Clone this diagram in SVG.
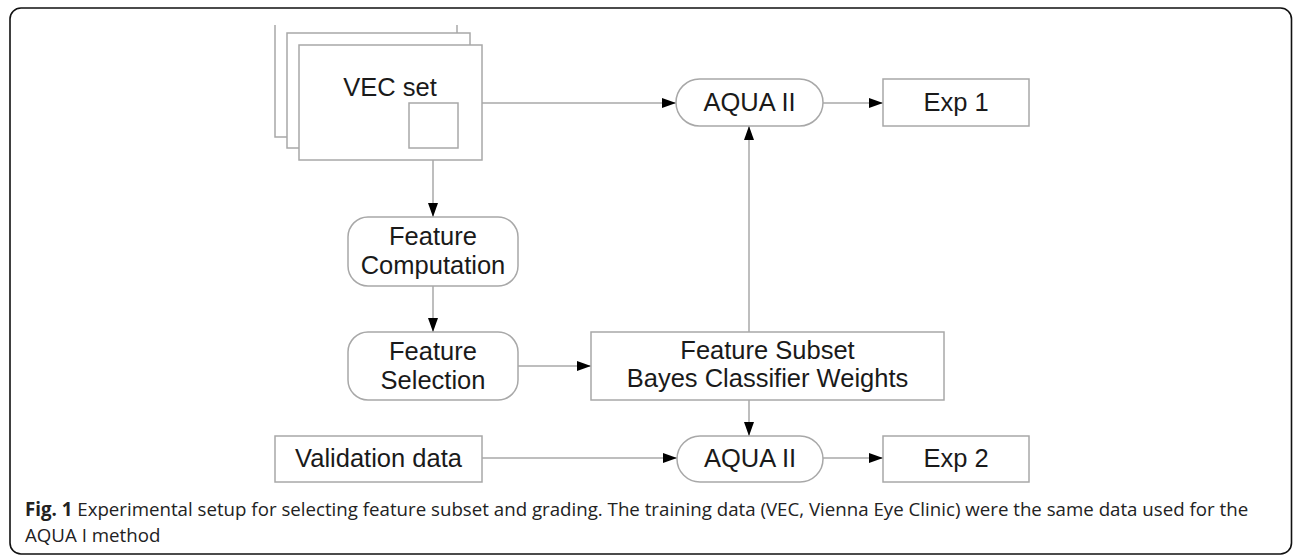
<svg xmlns="http://www.w3.org/2000/svg" width="1293" height="555" viewBox="0 0 1293 555">
<style>
.box{fill:#fff;stroke:#a8a8a8;stroke-width:1.5}
.ln{fill:none;stroke:#a8a8a8;stroke-width:1.5}
.t{font-family:"Liberation Sans",Arial,sans-serif;font-size:25.5px;fill:#1a1a1a;text-anchor:middle}
.cap{font-family:"Open Sans","Noto Sans",sans-serif;font-size:18.7px;fill:#222}
</style>
<defs>
<marker id="ah" markerUnits="userSpaceOnUse" markerWidth="15" markerHeight="11" refX="14" refY="5.5" orient="auto">
<path d="M0,0.5 L14,5.5 L0,10.5 Z" fill="#000"/>
</marker>
</defs>
<rect x="10" y="8" width="1281.5" height="546" rx="11" fill="#fff" stroke="#111" stroke-width="1.6"/>

<g id="connectors">
<line class="ln" x1="482" y1="103" x2="676" y2="103" marker-end="url(#ah)"/>
<line class="ln" x1="823" y1="103" x2="883" y2="103" marker-end="url(#ah)"/>
<line class="ln" x1="433" y1="148" x2="433" y2="217" marker-end="url(#ah)"/>
<line class="ln" x1="433" y1="286" x2="433" y2="332" marker-end="url(#ah)"/>
<line class="ln" x1="518" y1="366" x2="591" y2="366" marker-end="url(#ah)"/>
<line class="ln" x1="749" y1="332" x2="749" y2="126" marker-end="url(#ah)"/>
<line class="ln" x1="749" y1="400" x2="749" y2="436" marker-end="url(#ah)"/>
<line class="ln" x1="482" y1="458" x2="677" y2="458" marker-end="url(#ah)"/>
<line class="ln" x1="823" y1="458" x2="883" y2="458" marker-end="url(#ah)"/>
</g>

<g id="vec-set">
<path class="ln" d="M275,25 V137 H287"/>
<path class="ln" d="M457,25 V33"/>
<rect class="box" x="287" y="33" width="183" height="115"/>
<rect class="box" x="299" y="45" width="183" height="115"/>
<rect class="box" x="409" y="103" width="49" height="45"/>
<text class="t" x="390" y="96">VEC set</text>
</g>

<g id="aqua-top">
<rect class="box" x="676" y="79" width="147" height="47" rx="23.5"/>
<text class="t" x="749.5" y="111">AQUA II</text>
</g>

<g id="exp1">
<rect class="box" x="883" y="79" width="146" height="47"/>
<text class="t" x="956" y="111">Exp 1</text>
</g>

<g id="feature-computation">
<rect class="box" x="348" y="217" width="170" height="69" rx="20"/>
<text class="t" x="433" y="245">Feature</text>
<text class="t" x="433" y="274">Computation</text>
</g>

<g id="feature-selection">
<rect class="box" x="348" y="332" width="170" height="68" rx="20"/>
<text class="t" x="433" y="360">Feature</text>
<text class="t" x="433" y="389">Selection</text>
</g>

<g id="feature-subset">
<rect class="box" x="591" y="332" width="353" height="68"/>
<text class="t" x="767.5" y="359">Feature Subset</text>
<text class="t" x="767.5" y="387">Bayes Classifier Weights</text>
</g>

<g id="validation">
<rect class="box" x="275" y="436" width="207" height="46"/>
<text class="t" x="378.5" y="467">Validation data</text>
</g>

<g id="aqua-bottom">
<rect class="box" x="677" y="436" width="146" height="46" rx="23"/>
<text class="t" x="750" y="467">AQUA II</text>
</g>

<g id="exp2">
<rect class="box" x="883" y="436" width="146" height="46"/>
<text class="t" x="956" y="467">Exp 2</text>
</g>

<g id="caption">
<text class="cap" x="25" y="516"><tspan font-weight="bold">Fig. 1</tspan> Experimental setup for selecting feature subset and grading. The training data (VEC, Vienna Eye Clinic) were the same data used for the</text>
<text class="cap" x="25" y="542">AQUA I method</text>
</g>
</svg>
